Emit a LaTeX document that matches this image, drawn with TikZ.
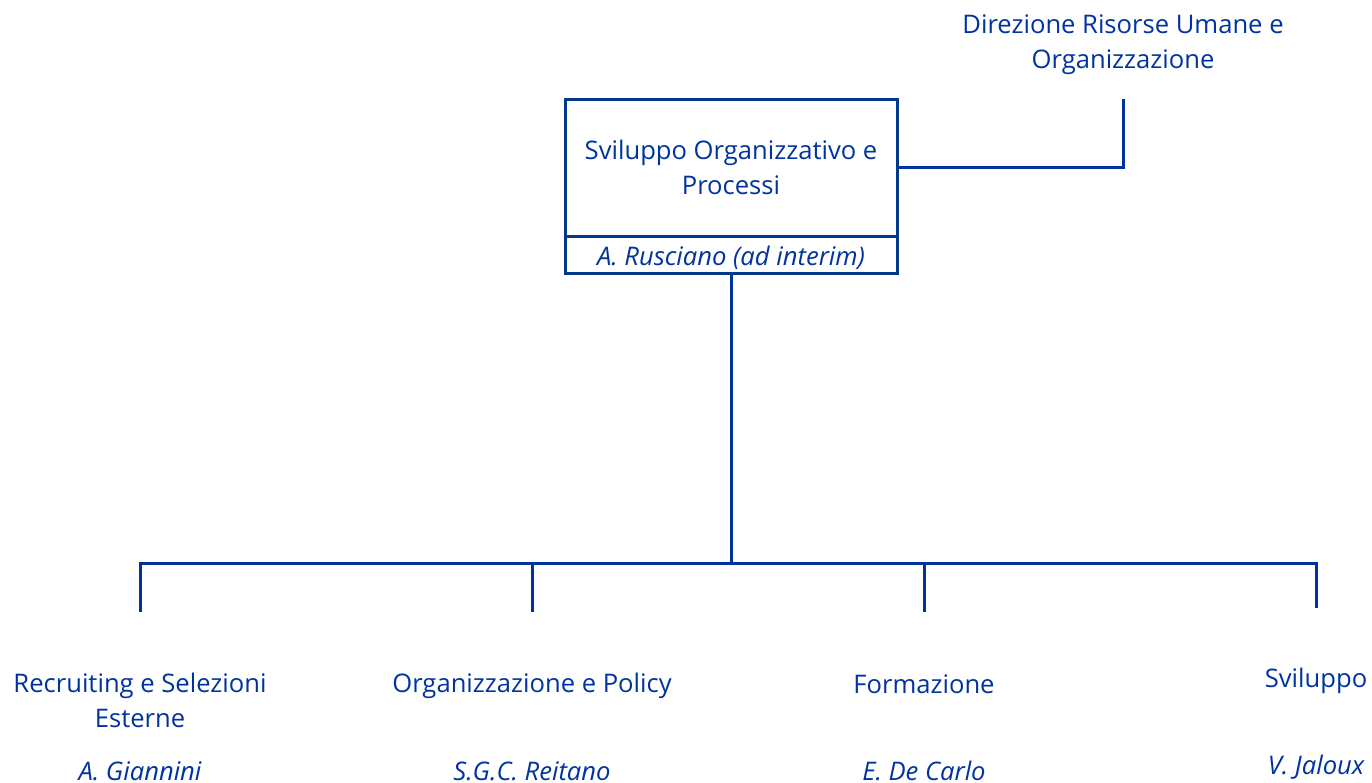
\documentclass[tikz,border=0pt]{standalone}
\usepackage{fontspec}
\setmainfont{Open Sans}
\definecolor{orgblue}{RGB}{0,51,160}
\definecolor{boxblue}{RGB}{0,56,140}
\begin{document}
\begin{tikzpicture}[x=1pt,y=-1pt,
  lbl/.style={font=\fontsize{25.6}{35}\selectfont, text=orgblue, align=center, inner sep=0pt},
  nme/.style={font=\fontsize{25.6}{35}\selectfont\itshape, text=orgblue, align=center, inner sep=0pt},
  conn/.style={draw=orgblue, line width=3pt},
  boxst/.style={draw=boxblue, line width=3pt, inner sep=0pt}]
\useasboundingbox (0,0) rectangle (1372,782);
\clip (0,0) rectangle (1372,782);
% top box
\node[boxst, minimum width=332pt, minimum height=137pt] (main) at (731,167.5) {};
\node[boxst, minimum width=332pt, minimum height=37pt] (mainname) at (731,254.5) {};
\node[lbl] (maintxt) at (731,167.5) {Sviluppo Organizzativo e\\Processi};
\node[nme] (mainnm) at (731,258) {A. Rusciano (ad interim)};
% parent
\node[lbl] (dir) at (1123,44.5) {Direzione Risorse Umane e\\Organizzazione};
\coordinate (dirbot) at (1123,99);
\draw[conn] (main.east) -- (main.east -| dirbot) -- (dirbot);
% tree
\coordinate (hub) at (731,563);
\coordinate (c1) at (140,612);
\coordinate (c2) at (532,612);
\coordinate (c3) at (924,612);
\coordinate (c4) at (1316,608);
\draw[conn] (mainname.south) -- (hub);
\draw[conn] (c1) -- (c1 |- hub) -- (c4 |- hub) -- (c4);
\draw[conn] (c2 |- hub) -- (c2);
\draw[conn] (c3 |- hub) -- (c3);
% children
\node[lbl] (t1) at (140,700.5) {Recruiting e Selezioni\\Esterne};
\node[nme] (n1) at (140,771) {A. Giannini};
\node[lbl] (t2) at (532,686) {Organizzazione e Policy};
\node[nme] (n2) at (532,771) {S.G.C. Reitano};
\node[lbl] (t3) at (924,684) {Formazione};
\node[nme] (n3) at (924,771) {E. De Carlo};
\node[lbl] (t4) at (1316,681) {Sviluppo};
\node[nme] (n4) at (1316,767) {V. Jaloux};
\end{tikzpicture}
\end{document}
